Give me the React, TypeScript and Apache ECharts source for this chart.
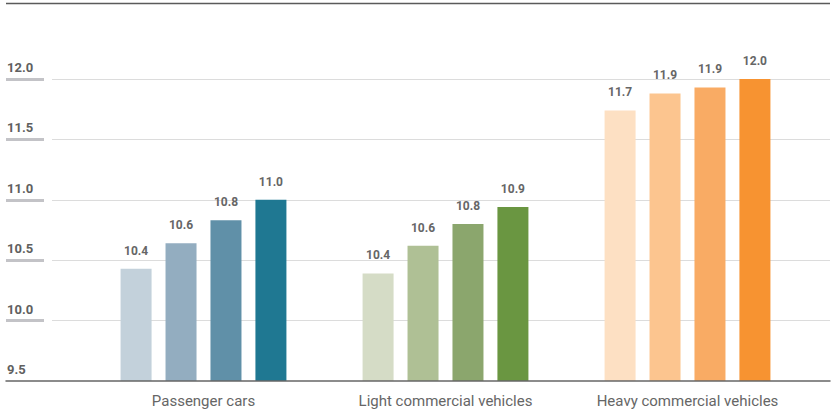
import React, { useEffect, useRef } from "react";
import * as echarts from "echarts";

const categories = ["Passenger cars", "Light commercial vehicles", "Heavy commercial vehicles"];
const seriesA = [10.43, 10.39, 11.74];
const seriesB = [10.64, 10.62, 11.88];
const seriesC = [10.83, 10.8, 11.93];
const seriesD = [11.0, 10.94, 12.0];
const yTicks = { min: 9.5, max: 12, interval: 0.5 };

const palette = [
  ["#c3d1db", "#d5dcc6", "#fde0c3"],
  ["#93adc0", "#afc095", "#fcc58f"],
  ["#6090a8", "#8ba66d", "#f9ab64"],
  ["#1f7892", "#6a9641", "#f79331"],
];

const FONT = "Roboto, 'Noto Sans', sans-serif";

export default function App() {
  const ref = useRef<HTMLDivElement>(null);
  useEffect(() => {
    if (!ref.current) return;
    const chart = echarts.init(ref.current, null, { renderer: "svg" });
    const allSeries = [seriesA, seriesB, seriesC, seriesD];
    const clear = "rgba(0,0,0,0)";
    const yBase = { type: "value", min: yTicks.min, max: yTicks.max, interval: yTicks.interval };
    chart.setOption({
      animation: false,
      backgroundColor: "#ffffff",
      graphic: [
        {
          type: "line",
          shape: { x1: 6, y1: 3.5, x2: 830, y2: 3.5 },
          style: { stroke: "#5a5a5a", lineWidth: 1.3 },
          silent: true,
        },
      ],
      grid: [
        { left: 6, right: 1, top: 79, bottom: 36 },
        { left: 52, right: 1, top: 79, bottom: 36 },
        { left: 6, width: 38, top: 79, bottom: 36 },
        { left: 82.5, right: 22.5, top: 79, bottom: 36 },
      ],
      xAxis: [
        {
          gridIndex: 0,
          type: "category",
          data: categories,
          z: 5,
          axisLine: { show: true, lineStyle: { color: "#666666", width: 1.5 } },
          axisTick: { show: false },
          axisLabel: { show: false },
          splitLine: { show: false },
        },
        { gridIndex: 1, type: "category", data: categories, show: false },
        { gridIndex: 2, type: "category", data: categories, show: false },
        {
          gridIndex: 3,
          type: "category",
          data: categories,
          axisLine: { show: false },
          axisTick: { show: false },
          axisLabel: { color: "#666666", fontSize: 15, fontFamily: FONT, margin: 12 },
        },
      ],
      yAxis: [
        { ...yBase, gridIndex: 0, show: false },
        {
          ...yBase,
          gridIndex: 1,
          axisLine: { show: false },
          axisTick: { show: false },
          axisLabel: { show: false },
          splitLine: {
            show: true,
            lineStyle: { color: [clear, "#dcdcdc", "#dcdcdc", "#dcdcdc", "#dcdcdc", "#dcdcdc"], width: 1 },
          },
        },
        {
          ...yBase,
          gridIndex: 2,
          axisLine: { show: false },
          axisTick: { show: false },
          axisLabel: {
            inside: true,
            margin: 1,
            align: "left",
            verticalAlign: "bottom",
            padding: [0, 0, 5, 0],
            fontWeight: "bold",
            fontSize: 13,
            fontFamily: FONT,
            color: "#606060",
            formatter: (v: number) => v.toFixed(1),
          },
          splitLine: {
            show: true,
            lineStyle: { color: [clear, "#c3c3c7", "#c3c3c7", "#c3c3c7", "#c3c3c7", "#c3c3c7"], width: 3 },
          },
        },
        { ...yBase, gridIndex: 3, show: false },
      ],
      series: allSeries.map((vals, si) => ({
        type: "bar",
        xAxisIndex: 3,
        yAxisIndex: 3,
        barWidth: 31,
        barGap: "45%",
        data: vals.map((v, ci) => ({ value: v, itemStyle: { color: palette[si][ci] } })),
        label: {
          show: true,
          position: "top",
          distance: 12,
          color: "#666666",
          fontWeight: "bold",
          fontSize: 12,
          fontFamily: FONT,
          formatter: (p: any) => Number(p.value).toFixed(1),
        },
      })),
    });
    return () => chart.dispose();
  }, []);
  return (
    <div
      ref={ref}
      style={{ position: "fixed", left: 0, top: 0, width: 831, height: 417 }}
    />
  );
}
